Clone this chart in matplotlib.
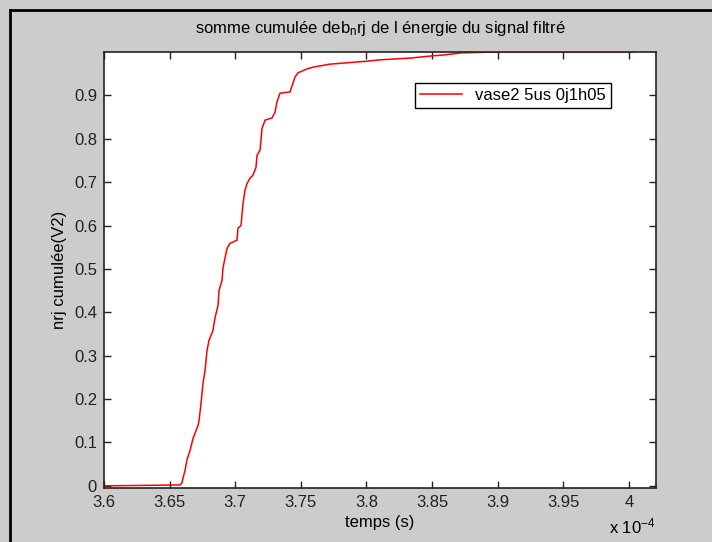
import matplotlib
matplotlib.use("Agg")
import matplotlib.pyplot as plt
from matplotlib.lines import Line2D

# values (time in units of 1e-4 s)
temps = [3.6000, 3.6579, 3.6594, 3.6602, 3.6617, 3.6632, 3.6655, 3.6678, 3.6701,
         3.6716, 3.6724, 3.6739, 3.6754, 3.6770, 3.6785, 3.6800, 3.6830, 3.6846,
         3.6869, 3.6876, 3.6899, 3.6907, 3.6937, 3.6960, 3.7013, 3.7021, 3.7044,
         3.7059, 3.7074, 3.7090, 3.7112, 3.7135, 3.7158, 3.7166, 3.7189, 3.7204,
         3.7227, 3.7280, 3.7303, 3.7318, 3.7341, 3.7417, 3.7440, 3.7455, 3.7478,
         3.7547, 3.7592, 3.7722, 3.8011, 3.8103, 3.8331, 3.8499, 3.8583, 3.8728,
         3.9002, 4.0030]
nrj = [0.000, 0.002, 0.007, 0.018, 0.035, 0.060, 0.081, 0.109, 0.127,
       0.139, 0.150, 0.189, 0.236, 0.266, 0.312, 0.335, 0.358, 0.388,
       0.416, 0.450, 0.473, 0.503, 0.547, 0.559, 0.566, 0.594, 0.600,
       0.651, 0.681, 0.697, 0.709, 0.716, 0.734, 0.762, 0.774, 0.824,
       0.843, 0.848, 0.861, 0.885, 0.905, 0.908, 0.928, 0.942, 0.952,
       0.961, 0.965, 0.972, 0.979, 0.982, 0.986, 0.991, 0.993, 0.998,
       1.000, 1.000]
xticks = [3.6, 3.65, 3.7, 3.75, 3.8, 3.85, 3.9, 3.95, 4.0]
xticklabels = ["3.6", "3.65", "3.7", "3.75", "3.8", "3.85", "3.9", "3.95", "4"]
yticks = [0, 0.1, 0.2, 0.3, 0.4, 0.5, 0.6, 0.7, 0.8, 0.9]
yticklabels = ["0", "0.1", "0.2", "0.3", "0.4", "0.5", "0.6", "0.7", "0.8", "0.9"]

plt.rcParams['font.family'] = ['Liberation Sans', 'DejaVu Sans']
plt.rcParams['mathtext.fontset'] = 'custom'
plt.rcParams['mathtext.rm'] = 'Liberation Sans'
plt.rcParams['mathtext.it'] = 'Liberation Sans'

fig = plt.figure(figsize=(7.12, 5.42), dpi=100, facecolor='#cccccc')
ax = fig.add_axes([104/712, 1 - 488/542, 552/712, 436/542])
ax.set_facecolor('white')

ax.plot(temps, nrj, color='#ff0000', linewidth=1.1, label="vase2 5us 0j1h05")

ax.set_xlim(3.6, 4.0206)
ax.set_ylim(-0.005, 1.0)
ax.set_xticks(xticks)
ax.set_xticklabels(xticklabels)
ax.set_yticks(yticks)
ax.set_yticklabels(yticklabels)
ax.tick_params(direction='in', length=5, width=1, top=True, right=True,
               labelsize=12, pad=5, colors='#222222')
for s in ax.spines.values():
    s.set_linewidth(1.2)
    s.set_color('#222222')

ax.set_title("somme cumulée deb$_{\\mathrm{n}}$rj de l énergie du signal filtré",
             fontsize=12, pad=14)
ax.set_xlabel("temps (s)", fontsize=12, labelpad=4)
ax.set_ylabel("nrj cumulée(V2)", fontsize=12, labelpad=5)
ax.text(1.0, -0.103, "x 10$^{-4}$", transform=ax.transAxes, ha='right',
        va='baseline', fontsize=12)

leg = ax.legend(loc='upper right', bbox_to_anchor=(0.918, 0.929), fontsize=12,
                fancybox=False, framealpha=1, edgecolor='black',
                handlelength=2.5, borderpad=0.3, borderaxespad=0)
leg.get_frame().set_linewidth(1.0)

# window frame (left and top edges visible)
fig.add_artist(Line2D([10/712, 10/712], [0, 1 - 10/542], transform=fig.transFigure,
                      color='black', linewidth=2))
fig.add_artist(Line2D([10/712, 1], [1 - 10/542, 1 - 10/542], transform=fig.transFigure,
                      color='black', linewidth=2))

fig.savefig("out.png", dpi=100, facecolor=fig.get_facecolor())
